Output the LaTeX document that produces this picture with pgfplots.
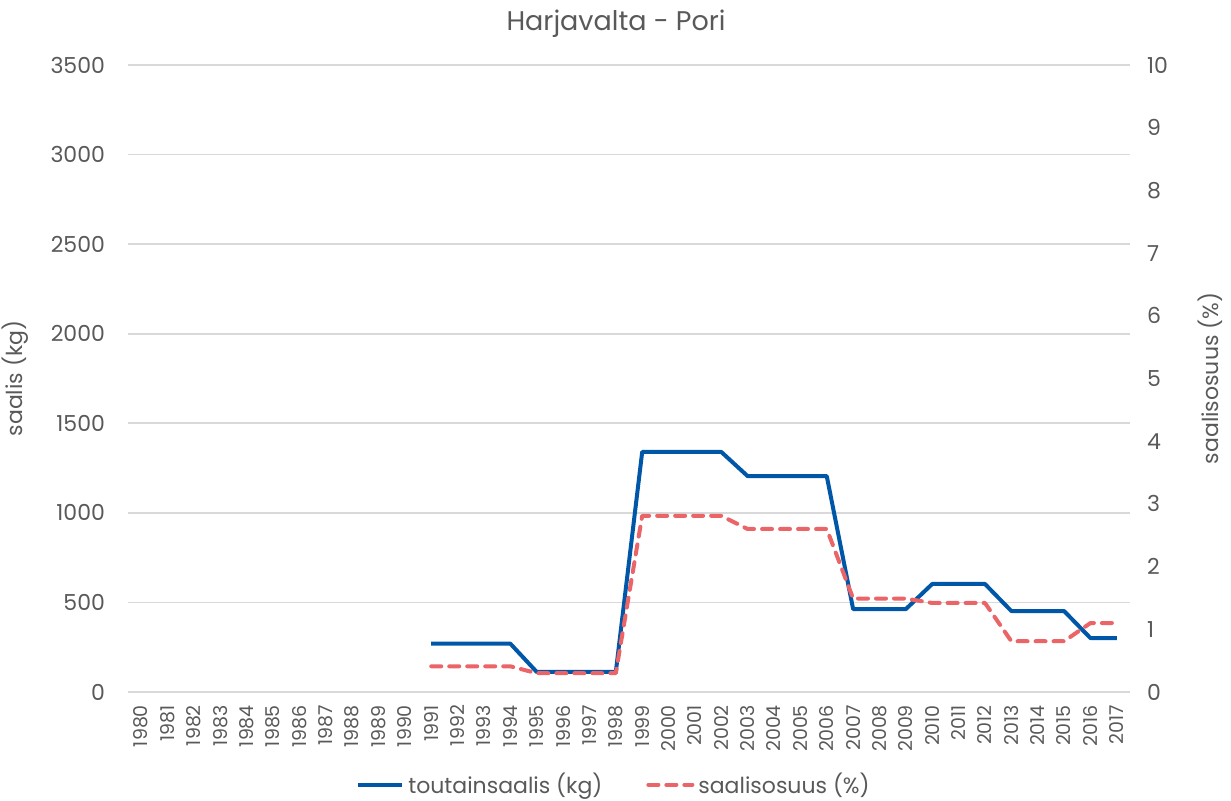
\documentclass[border=0pt]{standalone}
\usepackage{pgfplots}
\pgfplotsset{compat=1.18}
\usepackage{fontspec}
\setmainfont{Poppins}
\definecolor{txt}{HTML}{595959}
\definecolor{grd}{HTML}{D9D9D9}
\definecolor{bl}{HTML}{0057A8}
\definecolor{rd}{HTML}{EA6468}
\begin{document}
\begin{tikzpicture}
\path[use as bounding box] (-64pt,-54pt) rectangle (551.5pt,346pt);
\pgfplotsset{
  base/.style={
    scale only axis, width=501pt, height=313.5pt,
    xmin=1979.5, xmax=2017.5,
    /pgf/number format/assume math mode=true,
    /pgf/number format/1000 sep={},
    tick style={draw=none},
    major tick length=0pt,
    ticklabel style={text=txt},
    label style={text=txt, font=\fontsize{11}{13}\selectfont},
  }
}
\begin{axis}[base,
  ymin=0, ymax=3500,
  xtick={1980,...,2017}, ytick={0,500,...,3500},
  axis line style={draw=none},
  ymajorgrids, grid style={grd, line width=0.8pt},
  x tick label style={rotate=90, anchor=east, yshift=0pt, xshift=-3pt, font=\fontsize{9.5}{11}\selectfont},
  y tick label style={xshift=-8pt, font=\fontsize{11}{13}\selectfont},
  ylabel={saalis (kg)},
  ylabel style={at={(axis description cs:0,0.5)}, anchor=center, yshift=56.5pt},
]
\addplot[bl, line width=2pt, line join=round] coordinates {
(1991,270) (1992,270) (1993,270) (1994,270)
(1995,112) (1996,112) (1997,112) (1998,112)
(1999,1340) (2000,1340) (2001,1340) (2002,1340)
(2003,1205) (2004,1205) (2005,1205) (2006,1205)
(2007,463) (2008,463) (2009,463)
(2010,603) (2011,603) (2012,603)
(2013,452) (2014,452) (2015,452)
(2016,301) (2017,301)
};
\end{axis}
\begin{axis}[base,
  ymin=0, ymax=10,
  axis x line=none,
  axis y line*=right,
  y axis line style={draw=none},
  ytick={0,1,...,10},
  y tick label style={xshift=5pt, font=\fontsize{11}{13}\selectfont},
  ylabel={saalisosuus (\%)},
  ylabel style={at={(axis description cs:1,0.5)}, anchor=center, rotate=0, yshift=-40pt},
  legend style={draw=none, fill=none, at={(axis description cs:0.486,-0.148)}, anchor=center,
    legend columns=2, font=\fontsize{11}{13}\selectfont, text=txt,
    /tikz/every even column/.append style={column sep=20pt},
    inner sep=0pt},
  legend image code/.code={\draw[#1] (0pt,0pt) -- (22pt,0pt);},
]
\addlegendimage{bl, line width=2pt}
\addlegendentry{toutainsaalis (kg)}
\addplot[rd, line width=2pt, dash pattern=on 5pt off 4pt, line cap=round, line join=round] coordinates {
(1991,0.41) (1992,0.41) (1993,0.41) (1994,0.41)
(1995,0.30) (1996,0.30) (1997,0.30) (1998,0.30)
(1999,2.81) (2000,2.81) (2001,2.81) (2002,2.81)
(2003,2.6) (2004,2.6) (2005,2.6) (2006,2.6)
(2007,1.49) (2008,1.49) (2009,1.49)
(2010,1.42) (2011,1.42) (2012,1.42)
(2013,0.81) (2014,0.81) (2015,0.81)
(2016,1.1) (2017,1.1)
};
\addlegendentry{saalisosuus (\%)}
\end{axis}
\node[text=txt, font=\fontsize{13.5}{16}\selectfont] at (244pt,334pt) {Harjavalta - Pori};
\end{tikzpicture}
\end{document}
